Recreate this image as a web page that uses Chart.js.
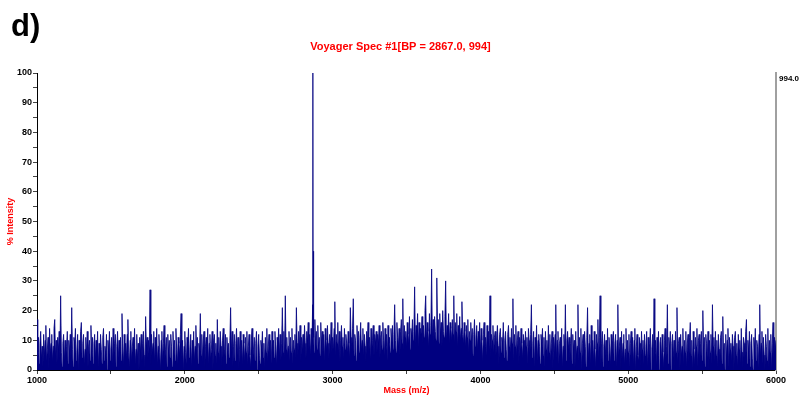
<!DOCTYPE html>
<html>
<head>
<meta charset="utf-8">
<script src="https://cdn.jsdelivr.net/npm/chart.js@4"></script>
<style>
html,body{margin:0;padding:0;background:#fff;}
#wrap{position:relative;width:801px;height:398px;}
</style>
</head>
<body>
<div id="wrap"><canvas id="c" width="801" height="398"></canvas></div>
<script>
// Spectrum sampling grid (m/z)
const massStart = 1000;
const massStep = 5;
// % intensity, one value per 5 Da from 1000 to 6000 (one row = 100 Da)
const intensity = [
  17,6,11,2,9,13,4,8,1,12,5,10,15,3,7,11,0,14,6,9,
  12,3,8,14,17,5,10,2,11,7,13,4,25,6,1,9,12,3,10,5,
  8,13,2,10,6,12,4,21,7,1,11,9,14,3,6,12,0,10,5,13,
  16,4,9,12,2,7,11,5,13,1,8,10,3,15,6,11,2,9,12,4,
  10,6,13,1,9,4,12,7,2,11,14,3,8,5,12,0,10,6,13,3,
  7,11,2,14,5,9,12,1,8,13,4,10,6,11,3,19,7,2,12,5,
  9,4,12,17,6,1,10,13,3,8,11,5,14,2,7,12,4,9,0,11,
  6,12,3,9,13,5,1,18,8,11,4,10,7,27,2,12,6,9,13,3,
  11,5,14,2,8,12,6,0,10,13,3,9,15,4,7,11,1,12,6,10,
  4,12,8,1,13,6,10,3,14,7,2,11,9,5,12,19,4,10,0,8,
  13,6,2,11,9,14,4,7,12,1,10,5,13,3,8,15,6,11,2,9,
  7,19,5,12,3,10,13,1,8,11,6,14,2,9,12,4,7,13,0,10,
  12,5,9,2,17,6,11,3,13,8,1,10,14,5,7,12,2,11,6,9,
  4,10,21,6,13,1,8,12,3,9,14,5,11,0,7,13,4,10,2,12,
  9,3,11,6,13,2,8,12,5,1,10,14,4,7,11,3,9,13,0,8,
  12,5,2,10,7,13,4,9,1,11,6,14,3,8,12,5,10,2,13,6,
  10,4,13,7,2,11,8,14,5,12,3,9,21,6,13,4,25,7,11,5,
  8,13,3,11,6,14,2,10,7,12,4,21,9,5,13,8,15,3,11,7,
  12,6,15,9,4,13,10,16,7,12,5,14,8,22,11,6,17,9,13,7,
  15,8,11,5,16,9,13,6,12,3,14,10,7,15,9,4,12,8,16,6,
  11,7,14,23,5,12,9,16,6,13,3,10,15,8,11,4,14,7,12,9,
  6,13,9,4,21,11,7,14,24,5,12,10,3,15,8,13,6,11,16,7,
  10,14,5,12,8,3,13,9,16,6,11,4,14,7,10,15,5,12,9,13,
  6,12,9,15,4,11,13,7,16,10,5,14,8,12,3,15,9,11,6,14,
  9,15,7,12,22,10,6,16,11,8,14,5,13,17,9,24,7,15,11,13,
  8,16,12,9,18,7,14,11,17,10,13,28,9,15,12,19,8,16,11,14,
  12,18,9,15,11,20,25,10,16,13,8,19,12,15,34,11,17,9,18,13,
  10,31,14,17,9,19,12,16,8,20,13,11,18,30,10,15,12,19,9,16,
  14,10,17,12,25,9,16,13,19,8,15,11,18,10,14,23,12,9,16,13,
  8,15,11,17,6,13,10,16,9,14,5,12,17,8,11,15,7,13,10,16,
  6,14,10,3,12,16,8,11,5,15,9,13,7,25,4,12,10,15,6,11,
  13,5,10,15,8,2,12,14,6,11,9,16,4,10,13,7,3,12,15,8,
  11,6,14,9,24,3,12,8,15,5,10,13,2,11,7,14,9,4,12,10,
  5,13,8,11,2,14,10,6,12,22,4,9,13,1,11,7,15,3,10,12,
  8,2,12,9,14,5,11,1,13,7,10,4,15,6,12,3,9,13,0,11,
  6,12,22,4,10,13,2,9,11,5,14,1,8,12,6,22,3,10,13,7,
  11,4,9,14,2,12,7,10,1,13,5,8,22,3,11,6,14,0,9,12,
  5,13,8,1,11,21,4,9,12,2,15,6,10,3,13,7,1,12,9,17,
  4,11,25,2,9,13,1,8,12,5,10,0,14,3,11,7,2,12,6,10,
  13,3,9,12,1,10,22,5,8,11,0,13,4,9,12,2,7,14,3,10,
  6,12,1,9,13,4,11,2,10,14,0,8,12,5,3,11,9,1,13,7,
  10,2,12,5,8,13,1,11,4,9,14,0,7,12,3,24,6,10,2,11,
  5,13,0,9,11,3,12,6,1,10,14,4,8,22,2,11,7,13,0,9,
  12,4,10,1,13,6,21,3,9,11,0,12,5,8,14,2,10,6,13,1,
  9,12,3,11,16,5,10,0,13,7,2,11,8,14,1,10,12,4,9,13,
  3,20,7,11,1,12,9,4,13,0,10,6,12,2,22,8,11,3,13,5,
  10,1,12,7,3,11,13,2,18,6,9,0,12,4,10,14,1,11,7,9,
  3,12,8,0,11,13,5,9,1,12,7,10,2,14,6,0,11,9,4,13,
  17,2,10,6,13,1,9,12,4,0,11,7,14,3,10,8,1,12,22,5,
  9,13,2,11,5,0,12,8,3,14,1,10,6,12,0,9,16,4,11,7,
  10
];
// Base peak region (m/z 2867.0, 994 counts)
const peakMass = [2866, 2867, 2868, 2871, 2872, 2873];
const peakIntensity = [12, 100, 18, 20, 40, 14];
const xTicksMajor = [1000, 2000, 3000, 4000, 5000, 6000];
const yTicksMajor = [0, 10, 20, 30, 40, 50, 60, 70, 80, 90, 100];
const basePeakCounts = 994;
const titleText = 'Voyager Spec #1[BP = 2867.0, 994]';
const panelLabel = 'd)';

const points = intensity.map((v, i) => ({x: massStart + i * massStep, y: v}))
  .concat(peakMass.map((m, i) => ({x: m, y: peakIntensity[i]})))
  .sort((a, b) => a.x - b.x);

const FONT = '"Liberation Sans Narrow", "Liberation Sans", Arial, sans-serif';

const panelPlugin = {
  id: 'panelLabel',
  afterDraw(chart) {
    const ctx = chart.ctx;
    ctx.save();
    ctx.fillStyle = '#000';
    ctx.font = 'bold 31px "Liberation Sans", Arial, sans-serif';
    ctx.textBaseline = 'alphabetic';
    ctx.textAlign = 'left';
    ctx.fillText(panelLabel, 11, 36);
    ctx.restore();
  }
};

new Chart(document.getElementById('c'), {
  type: 'line',
  data: {
    datasets: [{
      data: points,
      borderColor: '#000080',
      backgroundColor: '#000080',
      borderWidth: 0.8,
      pointRadius: 0,
      tension: 0,
      fill: 'origin'
    }]
  },
  options: {
    responsive: false,
    animation: false,
    layout: {padding: 0},
    plugins: {
      legend: {display: false},
      tooltip: {enabled: false},
      title: {
        display: true,
        text: titleText,
        color: '#ff0000',
        font: {family: FONT, size: 11, weight: 'bold'},
        padding: {top: 40, bottom: 19.8}
      }
    },
    scales: {
      x: {
        type: 'linear',
        min: 1000, max: 6000,
        afterFit(s) { s.height = 28; },
        ticks: {
          stepSize: 500,
          autoSkip: false, maxRotation: 0,
          padding: 1,
          color: '#000',
          font: {family: FONT, size: 9, weight: 'bold'},
          callback: v => xTicksMajor.includes(v) ? String(v) : ''
        },
        grid: {display: true, drawOnChartArea: false, tickLength: 4, color: '#444'},
        border: {display: true, color: '#000', width: 1},
        title: {
          display: true, text: 'Mass (m/z)', color: '#ff0000',
          font: {family: FONT, size: 9, weight: 'bold'},
          padding: {top: 0, bottom: 2}
        }
      },
      y: {
        min: 0, max: 100,
        afterFit(s) { s.width = 37; },
        ticks: {
          stepSize: 5,
          autoSkip: false,
          padding: 1,
          color: '#000',
          font: {family: FONT, size: 9, weight: 'bold'},
          callback: v => yTicksMajor.includes(v) ? String(v) : ''
        },
        grid: {display: true, drawOnChartArea: false, tickLength: 4, color: '#444'},
        border: {display: true, color: '#000', width: 1},
        title: {
          display: true, text: '% Intensity', color: '#ff0000',
          font: {family: FONT, size: 9, weight: 'bold'},
          padding: {top: 5, bottom: 0}
        }
      },
      yRight: {
        position: 'right',
        min: 0, max: basePeakCounts,
        afterFit(s) { s.width = 25; },
        afterBuildTicks(s) { s.ticks = [{value: basePeakCounts}]; },
        ticks: {
          padding: 3,
          labelOffset: 6,
          color: '#000',
          font: {family: FONT, size: 8, weight: 'bold'},
          callback: v => v.toFixed(1)
        },
        grid: {display: false, drawOnChartArea: false, tickLength: 0},
        border: {display: true, color: '#a0a0a0', width: 2}
      }
    }
  },
  plugins: [panelPlugin]
});
</script>
</body>
</html>
